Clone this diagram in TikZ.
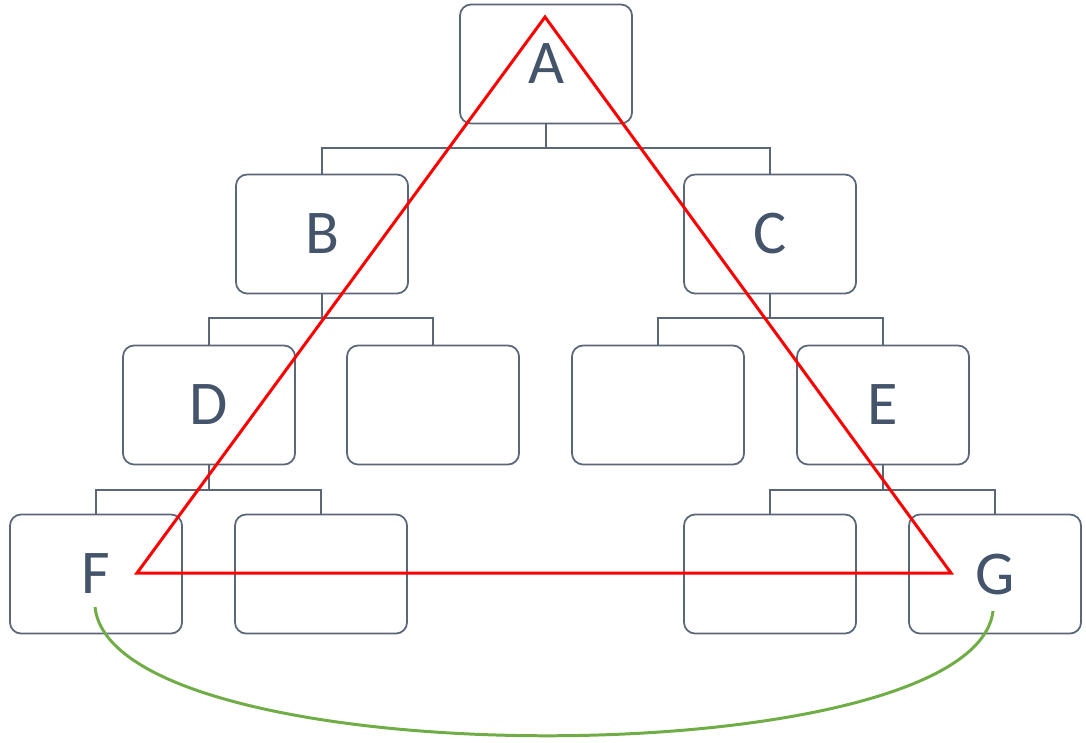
\documentclass[tikz,border=0pt]{standalone}
\usepackage{fontspec}
\setmainfont{Carlito}
\usetikzlibrary{calc}
\definecolor{boxline}{HTML}{5B6778}
\definecolor{labeltext}{HTML}{44546A}
\definecolor{tri}{HTML}{FF0000}
\definecolor{arcgreen}{HTML}{70AD47}
\tikzset{
  orgbox/.style={draw=boxline, line width=0.5pt, rounded corners=3.2pt,
    minimum width=1.72cm, minimum height=1.19cm, inner sep=0pt,
    text=labeltext, font=\fontsize{17.7}{20}\selectfont},
  tree/.style={draw=boxline, line width=0.45pt},
  triline/.style={draw=tri, line width=0.85pt, line join=miter},
  arcline/.style={draw=arcgreen, line width=0.85pt},
}
\begin{document}
\begin{tikzpicture}[x=0.01cm, y=-0.01cm]
  \useasboundingbox (0,0) rectangle (1086,742);
  % boxes of the tree
  \node[orgbox] (A)  at (546,64)  {A};
  \node[orgbox] (B)  at (322,234) {B};
  \node[orgbox] (C)  at (770,234) {C};
  \node[orgbox] (D)  at (209,405) {D};
  \node[orgbox] (X1) at (433,405) {};
  \node[orgbox] (X2) at (658,405) {};
  \node[orgbox] (E)  at (883,405) {E};
  \node[orgbox] (F)  at (96,574)  {F};
  \node[orgbox] (X3) at (321,574) {};
  \node[orgbox] (X4) at (770,574) {};
  \node[orgbox] (G)  at (995,574) {G};
  % elbow connectors
  \coordinate (barA) at (546,148);
  \coordinate (barB) at (322,318);
  \coordinate (barC) at (770,318);
  \coordinate (barD) at (209,490);
  \coordinate (barE) at (883,490);
  \draw[tree] (A.south) -- (barA);
  \draw[tree] (B.north) |- (barA) -| (C.north);
  \draw[tree] (B.south) -- (barB);
  \draw[tree] (D.north) |- (barB) -| (X1.north);
  \draw[tree] (C.south) -- (barC);
  \draw[tree] (X2.north) |- (barC) -| (E.north);
  \draw[tree] (D.south) -- (barD);
  \draw[tree] (F.north) |- (barD) -| (X3.north);
  \draw[tree] (E.south) -- (barE);
  \draw[tree] (X4.north) |- (barE) -| (G.north);
  % red triangle
  \coordinate (tA) at (545,17);
  \coordinate (tF) at (137,573);
  \coordinate (tG) at (951,573);
  \draw[triline] (tA) -- (tG) -- (tF) -- cycle;
  % green arc from F to G
  \coordinate (gF) at ($(F.center)+(-1,33)$);
  \coordinate (gG) at ($(G.center)+(-2,37)$);
  \draw[arcline] (gF) .. controls ($(gF)+(18,171)$) and ($(gG)+(-20,167)$) .. (gG);
\end{tikzpicture}
\end{document}
